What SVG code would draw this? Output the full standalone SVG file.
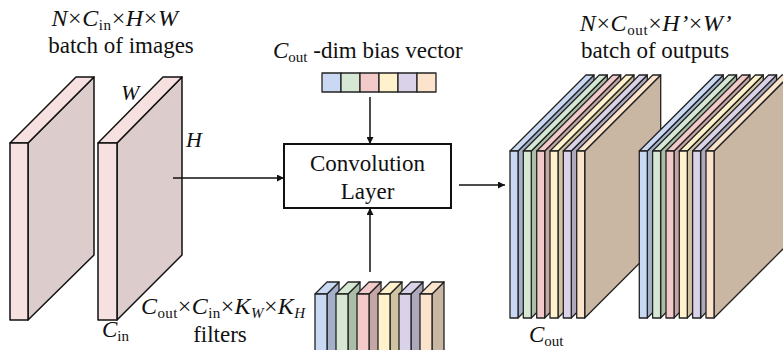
<svg xmlns="http://www.w3.org/2000/svg" width="783" height="350" viewBox="0 0 783 350">
<style>
.i{font-style:italic}
.s{font-size:15px}
.e{stroke:#111;stroke-width:1.5;stroke-linejoin:round}
.o{stroke:#222;stroke-width:1.3;stroke-linejoin:round}
.ln{stroke:#111;stroke-width:1.5;fill:none}
.inF{fill:#F7E0E0}.inS{fill:#DCCCCC}
.bF{fill:#C9D9F3}.bS{fill:#A3B0C9}
.gF{fill:#D6E8D3}.gS{fill:#AABEA7}
.pF{fill:#F2CACA}.pS{fill:#C6A5A5}
.yF{fill:#FFF1CB}.yS{fill:#CFC3A2}
.vF{fill:#D9D2E8}.vS{fill:#ADA8BB}
.oF{fill:#FCE4CC}.oS{fill:#C9B6A3}
</style>
<defs>
<marker id="ah" viewBox="0 0 10 10" refX="10" refY="5" markerWidth="7" markerHeight="7" markerUnits="userSpaceOnUse" orient="auto">
<path d="M0,0 L10,5 L0,10 z" fill="#111"/>
</marker>
</defs>

<g id="input-title">
<text font-family="Liberation Serif" font-size="24" letter-spacing="0.6" fill="#111" x="115" y="26" text-anchor="middle"><tspan class="i">N</tspan>×<tspan class="i">C</tspan><tspan class="s" dy="4">in</tspan><tspan dy="-4">×</tspan><tspan class="i">H</tspan>×<tspan class="i">W</tspan></text>
<text font-family="Liberation Serif" font-size="23" fill="#111" x="121" y="53" text-anchor="middle">batch of images</text>
</g>

<g id="input-images">
<g id="img1">
<polygon class="e inS" points="28,143 94,77 94,255 28,320"/>
<polygon class="e inF" points="10,143 28,143 94,77 76,77"/>
<rect class="e inF" x="10" y="143" width="18" height="177"/>
</g>
<g id="img2">
<polygon class="e inS" points="117,143 182,77 182,255 117,320"/>
<polygon class="e inF" points="98,143 117,143 182,77 163,77"/>
<rect class="e inF" x="98" y="143" width="19" height="177"/>
</g>
<text font-family="Liberation Serif" font-size="22" fill="#111" font-style="italic" x="121" y="100">W</text>
<text font-family="Liberation Serif" font-size="22" fill="#111" font-style="italic" x="186" y="147">H</text>
<text font-family="Liberation Serif" font-size="23" fill="#111" x="102" y="337"><tspan class="i">C</tspan><tspan class="s" dy="4">in</tspan></text>
</g>

<g id="bias">
<text font-family="Liberation Serif" font-size="23" fill="#111" x="273" y="58"><tspan class="i">C</tspan><tspan class="s" dy="4">out</tspan><tspan dy="-4"> -dim bias vector</tspan></text>
<g class="o">
<rect class="bF" x="322" y="73" width="19" height="19"/>
<rect class="gF" x="341" y="73" width="19" height="19"/>
<rect class="pF" x="360" y="73" width="19" height="19"/>
<rect class="yF" x="379" y="73" width="19" height="19"/>
<rect class="vF" x="398" y="73" width="19" height="19"/>
<rect class="oF" x="417" y="73" width="19" height="19"/>
</g>
</g>

<g id="conv">
<rect x="284" y="144" width="167" height="64" fill="#fff" stroke="#111" stroke-width="2"/>
<text font-family="Liberation Serif" font-size="23" fill="#111" x="367.5" y="171" text-anchor="middle">Convolution</text>
<text font-family="Liberation Serif" font-size="23" fill="#111" x="367.5" y="199" text-anchor="middle">Layer</text>
</g>

<g id="filters">
<text font-family="Liberation Serif" font-size="24" letter-spacing="0.4" fill="#111" x="141" y="314"><tspan class="i">C</tspan><tspan class="s" dy="4">out</tspan><tspan dy="-4">×</tspan><tspan class="i">C</tspan><tspan class="s" dy="4">in</tspan><tspan dy="-4">×</tspan><tspan class="i">K</tspan><tspan class="s i" dy="4">W</tspan><tspan dy="-4">×</tspan><tspan class="i">K</tspan><tspan class="s i" dy="4">H</tspan></text>
<text font-family="Liberation Serif" font-size="23" fill="#111" x="220" y="342" text-anchor="middle">filters</text>
<g class="o">
<polygon class="bS" points="327,294 339,282 339,362 327,374"/><polygon class="bF" points="315,294 327,294 339,282 327,282"/><rect class="bF" x="315" y="294" width="12" height="80"/>
<polygon class="gS" points="348,294 360,282 360,362 348,374"/><polygon class="gF" points="336,294 348,294 360,282 348,282"/><rect class="gF" x="336" y="294" width="12" height="80"/>
<polygon class="pS" points="369,294 381,282 381,362 369,374"/><polygon class="pF" points="357,294 369,294 381,282 369,282"/><rect class="pF" x="357" y="294" width="12" height="80"/>
<polygon class="yS" points="390,294 402,282 402,362 390,374"/><polygon class="yF" points="378,294 390,294 402,282 390,282"/><rect class="yF" x="378" y="294" width="12" height="80"/>
<polygon class="vS" points="411,294 423,282 423,362 411,374"/><polygon class="vF" points="399,294 411,294 423,282 411,282"/><rect class="vF" x="399" y="294" width="12" height="80"/>
<polygon class="oS" points="432,294 444,282 444,362 432,374"/><polygon class="oF" points="420,294 432,294 444,282 432,282"/><rect class="oF" x="420" y="294" width="12" height="80"/>
</g>
</g>

<g id="output-title">
<text font-family="Liberation Serif" font-size="24" letter-spacing="0.6" fill="#111" x="656" y="31" text-anchor="middle"><tspan class="i">N</tspan>×<tspan class="i">C</tspan><tspan class="s" dy="4">out</tspan><tspan dy="-4">×</tspan><tspan class="i">H’</tspan>×<tspan class="i">W’</tspan></text>
<text font-family="Liberation Serif" font-size="23" fill="#111" x="655" y="58" text-anchor="middle">batch of outputs</text>
</g>

<g id="outputs1" class="o">
<polygon class="bS" points="518,151 594,75 594,242 518,318"/><polygon class="bF" points="510,151 518,151 594,75 586,75"/><rect class="bF" x="510" y="151" width="8" height="167"/>
<polygon class="gS" points="531.3,151 607.3,75 607.3,242 531.3,318"/><polygon class="gF" points="523.3,151 531.3,151 607.3,75 599.3,75"/><rect class="gF" x="523.3" y="151" width="8" height="167"/>
<polygon class="pS" points="544.7,151 620.7,75 620.7,242 544.7,318"/><polygon class="pF" points="536.7,151 544.7,151 620.7,75 612.7,75"/><rect class="pF" x="536.7" y="151" width="8" height="167"/>
<polygon class="yS" points="558,151 634,75 634,242 558,318"/><polygon class="yF" points="550,151 558,151 634,75 626,75"/><rect class="yF" x="550" y="151" width="8" height="167"/>
<polygon class="vS" points="571.3,151 647.3,75 647.3,242 571.3,318"/><polygon class="vF" points="563.3,151 571.3,151 647.3,75 639.3,75"/><rect class="vF" x="563.3" y="151" width="8" height="167"/>
<polygon class="oS" points="584.7,151 660.7,75 660.7,242 584.7,318"/><polygon class="oF" points="576.7,151 584.7,151 660.7,75 652.7,75"/><rect class="oF" x="576.7" y="151" width="8" height="167"/>
</g>

<g id="outputs2" class="o">
<polygon class="bS" points="647.3,151 723.3,75 723.3,242 647.3,318"/><polygon class="bF" points="639.3,151 647.3,151 723.3,75 715.3,75"/><rect class="bF" x="639.3" y="151" width="8" height="167"/>
<polygon class="gS" points="660.6,151 736.6,75 736.6,242 660.6,318"/><polygon class="gF" points="652.6,151 660.6,151 736.6,75 728.6,75"/><rect class="gF" x="652.6" y="151" width="8" height="167"/>
<polygon class="pS" points="674,151 750,75 750,242 674,318"/><polygon class="pF" points="666,151 674,151 750,75 742,75"/><rect class="pF" x="666" y="151" width="8" height="167"/>
<polygon class="yS" points="687.3,151 763.3,75 763.3,242 687.3,318"/><polygon class="yF" points="679.3,151 687.3,151 763.3,75 755.3,75"/><rect class="yF" x="679.3" y="151" width="8" height="167"/>
<polygon class="vS" points="700.6,151 776.6,75 776.6,242 700.6,318"/><polygon class="vF" points="692.6,151 700.6,151 776.6,75 768.6,75"/><rect class="vF" x="692.6" y="151" width="8" height="167"/>
<polygon class="oS" points="714,151 790,75 790,242 714,318"/><polygon class="oF" points="706,151 714,151 790,75 782,75"/><rect class="oF" x="706" y="151" width="8" height="167"/>
</g>

<g id="output-label">
<text font-family="Liberation Serif" font-size="23" fill="#111" x="529" y="342"><tspan class="i">C</tspan><tspan class="s" dy="4">out</tspan></text>
</g>

<g id="connectors" class="ln">
<line x1="173" y1="178" x2="284" y2="178" marker-end="url(#ah)"/>
<line x1="370" y1="97" x2="370" y2="144" marker-end="url(#ah)"/>
<line x1="370" y1="272" x2="370" y2="208" marker-end="url(#ah)"/>
<line x1="459" y1="185" x2="505" y2="185" marker-end="url(#ah)"/>
</g>
</svg>
